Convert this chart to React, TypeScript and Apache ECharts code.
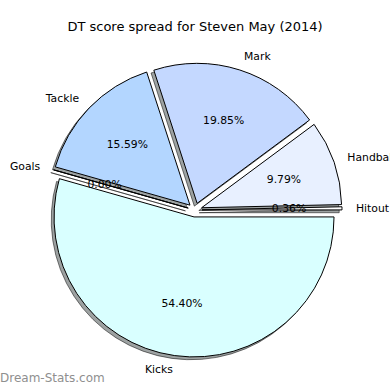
import React, { useEffect, useRef } from "react";
import * as echarts from "echarts";

const TITLE = "DT score spread for Steven May (2014)";
const WATERMARK = "Dream-Stats.com";
const categories = ["Hitout", "Handball", "Mark", "Tackle", "Goals", "Kicks"];
const values = [0.36, 9.79, 19.85, 15.59, 0.0, 54.4];
const colors = ["#ffffff", "#e8f0ff", "#c4d8ff", "#b3d6ff", "#cce0ff", "#d9ffff"];

const FONT = "DejaVu Sans";
const CX = 195;
const CY = 210;
const R = 140;
const EXPLODE = 7;
const SHADOW_DX = -2.8;
const SHADOW_DY = 2.8;

export default function App() {
  const ref = useRef<HTMLDivElement>(null);
  useEffect(() => {
    if (!ref.current) return;
    const chart = echarts.init(ref.current, null, { renderer: "svg" });
    const mk = (withColor: boolean) =>
      categories.map((name, i) => ({
        name,
        value: values[i],
        selected: true,
        itemStyle: withColor ? { color: colors[i] } : undefined,
      }));
    const common = {
      type: "pie",
      startAngle: 0,
      clockwise: false,
      selectedMode: "multiple",
      selectedOffset: EXPLODE,
      avoidLabelOverlap: false,
      silent: true,
      animation: false,
      emphasis: { disabled: true },
      minShowLabelAngle: 0,
    };
    chart.setOption({
      animation: false,
      backgroundColor: "#ffffff",
      title: {
        text: TITLE,
        left: "center",
        top: 20,
        padding: 0,
        textStyle: { fontFamily: FONT, fontSize: 13, fontWeight: "normal", color: "#000" },
      },
      graphic: [
        {
          type: "text",
          left: 0,
          top: 372,
          style: { text: WATERMARK, fontFamily: FONT, fontSize: 12, fill: "#8f8f8f" },
        },
      ],
      series: [
        {
          ...common,
          name: "shadow",
          center: [CX + SHADOW_DX, CY + SHADOW_DY],
          radius: [0, R],
          z: 1,
          label: { show: false },
          labelLine: { show: false },
          itemStyle: { color: "rgba(60,70,70,0.5)", borderColor: "rgba(0,0,0,0.5)", borderWidth: 1 },
          select: { itemStyle: { color: "rgba(60,70,70,0.5)", borderColor: "rgba(0,0,0,0.5)", borderWidth: 1 } },
          data: mk(false),
        },
        {
          ...common,
          name: "main",
          center: [CX, CY],
          radius: [0, R],
          z: 2,
          itemStyle: { borderColor: "#000", borderWidth: 1 },
          select: { itemStyle: { borderColor: "#000", borderWidth: 1 } },
          label: {
            show: true,
            position: "outside",
            fontFamily: FONT,
            fontSize: 10.8,
            color: "#000",
            distanceToLabelLine: 0,
            bleedMargin: 0,
            overflow: "none",
            formatter: "{b}",
          },
          labelLine: { show: false, length: R * 0.1, length2: 0 },
          data: mk(true),
        },
        {
          ...common,
          name: "pct",
          center: [CX, CY],
          radius: [R * 0.2, R],
          z: 3,
          itemStyle: { color: "rgba(0,0,0,0)", borderWidth: 0 },
          select: { itemStyle: { color: "rgba(0,0,0,0)", borderWidth: 0 } },
          label: {
            show: true,
            position: "inside",
            fontFamily: FONT,
            fontSize: 10.8,
            color: "#000",
            formatter: (p: any) => Number(p.value).toFixed(2) + "%",
          },
          labelLine: { show: false },
          data: mk(false),
        },
      ],
    });
    return () => chart.dispose();
  }, []);
  return (
    <div
      ref={ref}
      style={{ position: "absolute", left: 0, top: 0, width: 390, height: 390, background: "#fff" }}
    />
  );
}
